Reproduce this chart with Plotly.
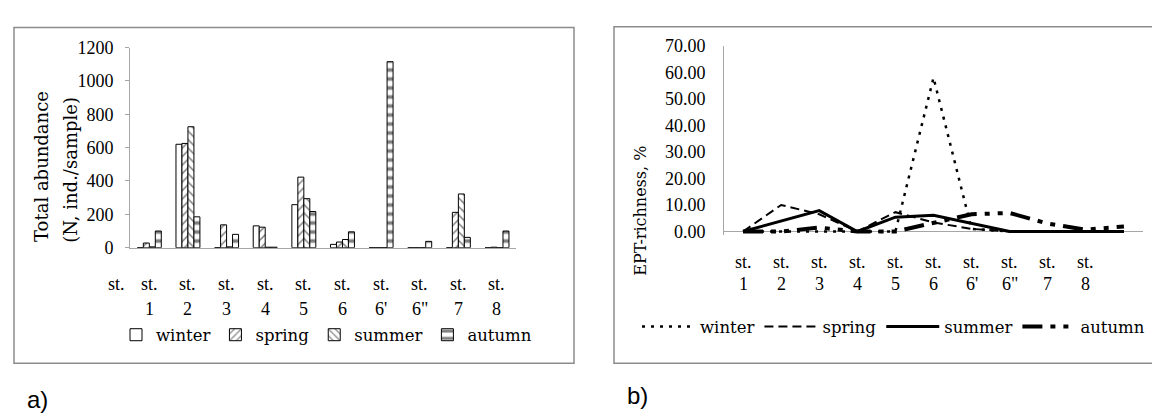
import plotly.graph_objects as go

# ---------------- data ----------------
stations = ["1", "2", "3", "4", "5", "6", "6'", "6\"", "7", "8"]
abund_winter = [0, 620, 0, 131, 258, 20, 0, 0, 0, 0]
abund_spring = [28, 625, 137, 123, 423, 34, 0, 0, 212, 3]
abund_summer = [5, 725, 5, 3, 294, 49, 0, 0, 322, 0]
abund_autumn = [100, 185, 80, 3, 217, 95, 1115, 38, 62, 100]

ept_stations = stations + [""]
ept_winter = [0, 0, 0, 0, 0, 58, 1, 0, 0, 0, 0]
ept_spring = [0, 10, 6.5, 0, 7.3, 3.4, 1, 0, 0, 0, 0]
ept_summer = [0, 4, 7.9, 0, 5.4, 6.1, 3, 0, 0, 0, 0]
ept_autumn = [0, 0, 1.5, 0, 0, 3.4, 6.5, 7, 3, 0.7, 1.9]

abund_ticks = [0, 200, 400, 600, 800, 1000, 1200]
ept_ticks = [0, 10, 20, 30, 40, 50, 60, 70]

# ---------------- helpers ----------------
W, H = 1160, 416
def px(x):
    return x / W
def py(y):
    return 1 - y / H

SERIF_NUM = "Liberation Serif"
SERIF_TXT = "DejaVu Serif"
AXIS_GREY = "#a6a6a6"
BOX_GREY = "#8c8c8c"

fig = go.Figure()

# ---------------- left: grouped bars ----------------
bar_styles = {
    "winter": dict(shape=""),
    "spring": dict(shape="/", size=6, solidity=0.25),
    "summer": dict(shape="\\", size=6, solidity=0.25),
    "autumn": dict(shape="-", size=9, solidity=0.4),
}
xs_left = list(range(len(stations)))
for name, vals in [("winter", abund_winter), ("spring", abund_spring),
                   ("summer", abund_summer), ("autumn", abund_autumn)]:
    st = bar_styles[name]
    fig.add_trace(go.Bar(
        x=xs_left, y=vals, name=name, xaxis="x", yaxis="y", legend="legend",
        marker=dict(color="white", line=dict(color="black", width=1),
                    pattern=dict(fgcolor="black", bgcolor="white", fillmode="overlay", **st)),
    ))

# ---------------- right: lines ----------------
line_styles = {
    "winter": dict(width=2.5, dash="3px,6px"),
    "spring": dict(width=2, dash="9px,5px"),
    "summer": dict(width=3, dash="solid"),
    "autumn": dict(width=4, dash="20px,8px,5px,8px,5px,8px"),
}
xs_right = list(range(len(ept_stations)))
for name, vals in [("winter", ept_winter), ("spring", ept_spring),
                   ("summer", ept_summer), ("autumn", ept_autumn)]:
    fig.add_trace(go.Scatter(
        x=xs_right, y=vals, name=name, mode="lines", xaxis="x2", yaxis="y2",
        legend="legend2", line=dict(color="black", **line_styles[name]),
    ))

annotations = []
# x tick labels, left chart
for i, s in enumerate(stations):
    annotations.append(dict(x=i, xref="x", y=py(279), yref="paper", text="st.",
                            showarrow=False, font=dict(family=SERIF_NUM, size=18, color="black"),
                            yanchor="middle"))
    annotations.append(dict(x=i, xref="x", y=py(306), yref="paper", text=s,
                            showarrow=False, font=dict(family=SERIF_NUM, size=18, color="black"),
                            yanchor="middle"))
# stray "st." label at left of the first chart
annotations.append(dict(x=px(98), xref="paper", y=py(279), yref="paper", text="st.",
                        showarrow=False, font=dict(family=SERIF_NUM, size=18, color="black"),
                        yanchor="middle"))
# x tick labels, right chart
for i, s in enumerate(ept_stations):
    if not s:
        continue
    annotations.append(dict(x=i, xref="x2", y=py(256.7), yref="paper", text="st.",
                            showarrow=False, font=dict(family=SERIF_NUM, size=18, color="black"),
                            yanchor="middle"))
    annotations.append(dict(x=i, xref="x2", y=py(279.3), yref="paper", text=s,
                            showarrow=False, font=dict(family=SERIF_NUM, size=18, color="black"),
                            yanchor="middle"))
# axis titles
annotations.append(dict(x=px(21), xref="paper", y=py(156), yref="paper", text="Total abundance",
                        textangle=-90, showarrow=False,
                        font=dict(family=SERIF_TXT, size=18, color="black")))
annotations.append(dict(x=px(50), xref="paper", y=py(160), yref="paper", text="(N, ind./sample)",
                        textangle=-90, showarrow=False,
                        font=dict(family=SERIF_TXT, size=18, color="black")))
annotations.append(dict(x=px(633), xref="paper", y=py(132), yref="paper", text="EPT-richness, %",
                        textangle=-90, showarrow=False,
                        font=dict(family=SERIF_TXT, size=16, color="black")))
# panel letters
annotations.append(dict(x=px(17), xref="paper", y=py(401), yref="paper", text="a)",
                        xanchor="left", yanchor="middle", showarrow=False,
                        font=dict(family="Liberation Sans", size=24, color="black")))
annotations.append(dict(x=px(617), xref="paper", y=py(397), yref="paper", text="b)",
                        xanchor="left", yanchor="middle", showarrow=False,
                        font=dict(family="Liberation Sans", size=24, color="black")))

shapes = [
    dict(type="rect", xref="paper", yref="paper", x0=px(6), x1=px(566), y0=py(362.7), y1=py(10),
         line=dict(color=BOX_GREY, width=1.5), fillcolor="rgba(0,0,0,0)", layer="below"),
    dict(type="rect", xref="paper", yref="paper", x0=px(606), x1=px(1175), y0=py(362.7), y1=py(9.3),
         line=dict(color=BOX_GREY, width=1.5), fillcolor="rgba(0,0,0,0)", layer="below"),
]

ept_ymin = -1.5
fig.update_layout(
    width=W, height=H, margin=dict(l=0, r=0, t=0, b=0),
    paper_bgcolor="white", plot_bgcolor="white",
    barmode="group", bargap=0.38, bargroupgap=0,
    font=dict(family=SERIF_TXT, color="black"),
    xaxis=dict(domain=[px(122), px(508.3)], range=[-0.5, len(stations) - 0.5], anchor="y",
               showticklabels=False, ticks="", showgrid=False, zeroline=False,
               showline=True, linecolor=AXIS_GREY, linewidth=1),
    yaxis=dict(domain=[py(241.3), py(31)], range=[0, 1200], anchor="x",
               tickvals=abund_ticks, ticks="outside", ticklen=4, tickcolor=AXIS_GREY,
               ticklabelstandoff=8,
               tickfont=dict(family=SERIF_NUM, size=18, color="black"),
               showgrid=False, zeroline=False, showline=True, linecolor=AXIS_GREY, linewidth=1),
    xaxis2=dict(domain=[px(716), px(1135)], range=[-0.5, len(ept_stations) - 0.5], anchor="y2",
                showticklabels=False, ticks="", showgrid=False, zeroline=False, showline=False),
    yaxis2=dict(domain=[py(224.3 - ept_ymin * 2.786), py(29.3)], range=[ept_ymin, 70], anchor="x2",
                tickvals=ept_ticks, tickformat=".2f", ticks="", ticklabelstandoff=14,
                tickfont=dict(family=SERIF_NUM, size=18, color="black"),
                showgrid=False, zeroline=True, zerolinecolor=AXIS_GREY, zerolinewidth=1,
                showline=True, linecolor=AXIS_GREY, linewidth=1),
    legend=dict(orientation="h", x=px(108), y=py(333), xanchor="left", yanchor="middle",
                font=dict(family=SERIF_TXT, size=16.5, color="black"),
                bgcolor="rgba(0,0,0,0)", itemwidth=30, traceorder="normal"),
    legend2=dict(orientation="h", x=px(629), y=py(324.3), xanchor="left", yanchor="middle",
                 font=dict(family=SERIF_TXT, size=16.5, color="black"),
                 bgcolor="rgba(0,0,0,0)", itemwidth=53, traceorder="normal"),
    annotations=annotations,
    shapes=shapes,
    showlegend=True,
)

fig.write_html("out.html")
